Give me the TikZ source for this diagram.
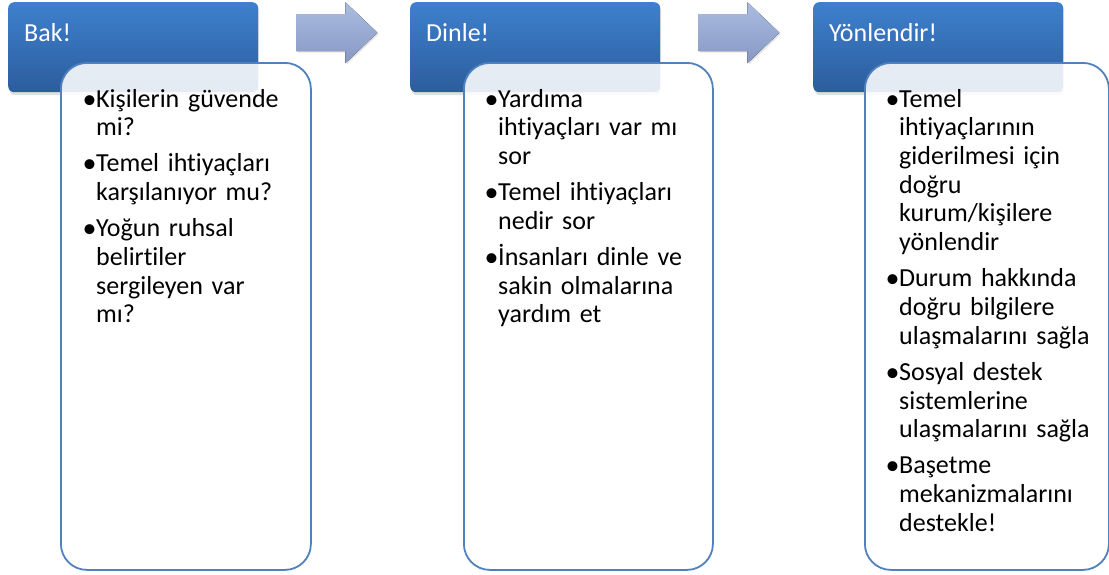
\documentclass[tikz,border=0pt]{standalone}
\usepackage{fontspec}
\setmainfont{Carlito}[RawFeature={-liga;-clig;-calt;-dlig}]
\usetikzlibrary{positioning,calc,shadows}

\definecolor{hdrtop}{RGB}{62,128,206}
\definecolor{hdrbot}{RGB}{44,93,157}
\definecolor{boxline}{RGB}{79,129,189}
\definecolor{arrtop}{RGB}{170,188,224}
\definecolor{arrbot}{RGB}{135,153,196}

% one bullet point with hanging indent
\newcommand{\bitem}[1]{\hangindent=12pt\hangafter=1%
  \makebox[12pt][l]{\hspace{-1.5pt}\raisebox{-1pt}{\fontsize{28pt}{0pt}\selectfont\textbullet}}#1\par}

\begin{document}
\begin{tikzpicture}[
    x=1pt, y=-1pt,
    font=\fontsize{26pt}{28.7pt}\selectfont,
    % --- node styles ---
    header/.style = {rectangle, rounded corners=6pt, anchor=north west,
                     minimum width=250pt, minimum height=90pt, inner sep=0pt,
                     top color=hdrtop, bottom color=hdrbot,
                     drop shadow={opacity=0.25, shadow xshift=1pt, shadow yshift=-3pt}},
    title/.style  = {anchor=base west, text=white, inner sep=0pt},
    body/.style   = {rectangle, draw=boxline, line width=1.8pt, rounded corners=26pt,
                     fill=white, fill opacity=0.88, anchor=north west,
                     minimum height=507pt, inner sep=0pt},
    list/.style   = {anchor=base west, text width=232pt, inner sep=0pt, align=left},
    pointer/.style = {top color=arrtop, bottom color=arrbot,
                      drop shadow={opacity=0.2, shadow xshift=1.5pt, shadow yshift=-1.5pt}},
]
\useasboundingbox (0,0) rectangle (1109,574);

%============ HEADERS + BODIES ============
\foreach \i/\hx/\bx/\bw/\ttl in {1/8/60/250/Bak!, 2/410/463/249/Dinle!, 3/813/864/244/Yönlendir!} {
  \node (head\i) [header] at (\hx,2) {};
  \node (title\i) [title] at ([shift={(16,39)}]head\i.north west) {\ttl};
  \node (body\i) [body, minimum width=\bw pt] at (\bx,62) {};
}

%============ ARROWS ============
\foreach \i in {1,2} {
  \coordinate (arr\i) at ([xshift=38pt, yshift=15pt]head\i.east);
  \fill[pointer] ($(arr\i)+(0,-18)$) -- ++(49,0) -- ++(0,-12) -- ++(32,30.5)
    -- ++(-32,30.5) -- ++(0,-12) -- ++(-49,0) -- cycle;
}

%============ LISTS ============
\node (list1) [list] at ([shift={(24,45)}]body1.north west) {%
  \setlength{\parskip}{7.5pt}%
  \bitem{Kişilerin güvende\newline mi?}
  \bitem{Temel ihtiyaçları\newline karşılanıyor mu?}
  \bitem{Yoğun ruhsal\newline belirtiler\newline sergileyen var\newline mı?}};

\node (list2) [list] at ([shift={(23,45)}]body2.north west) {%
  \setlength{\parskip}{7.5pt}%
  \bitem{Yardıma\newline ihtiyaçları var mı\newline sor}
  \bitem{Temel ihtiyaçları\newline nedir sor}
  \bitem{İnsanları dinle ve\newline sakin olmalarına\newline yardım et}};

\node (list3) [list] at ([shift={(23,45)}]body3.north west) {%
  \setlength{\parskip}{7.5pt}%
  \bitem{Temel\newline ihtiyaçlarının\newline giderilmesi için\newline doğru\newline kurum/kişilere\newline yönlendir}
  \bitem{Durum hakkında\newline doğru bilgilere\newline ulaşmalarını sağla}
  \bitem{Sosyal destek\newline sistemlerine\newline ulaşmalarını sağla}
  \bitem{Başetme\newline mekanizmalarını\newline destekle!}};

\end{tikzpicture}
\end{document}
